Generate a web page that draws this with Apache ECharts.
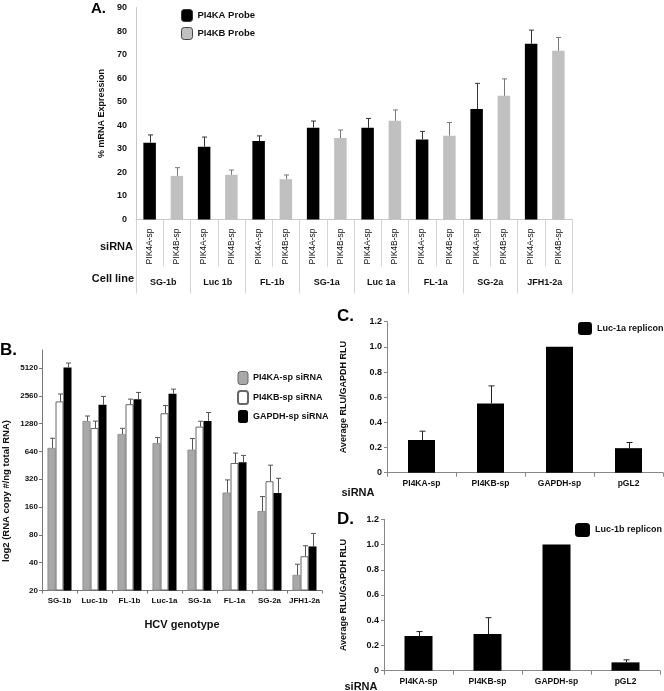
<!DOCTYPE html>
<html><head><meta charset="utf-8">
<script src="https://cdn.jsdelivr.net/npm/echarts@6/dist/echarts.min.js"></script>
<style>html,body{margin:0;padding:0;background:#fff}#c{width:664px;height:691px}</style>
</head><body><div id="c"></div>
<script>
const FONT = '"Liberation Sans", Arial, Helvetica, sans-serif';

// ---------- Panel A data ----------
const cellLines = ['SG-1b', 'Luc 1b', 'FL-1b', 'SG-1a', 'Luc 1a', 'FL-1a', 'SG-2a', 'JFH1-2a'];
const probeSiRNA = ['PIK4A-sp', 'PIK4B-sp'];
const yTicksA = [0, 10, 20, 30, 40, 50, 60, 70, 80, 90];
const pi4kaProbe = [32.6, 30.9, 33.3, 39.0, 38.9, 34.0, 46.9, 74.6];
const pi4kaProbeErr = [3.3, 4.1, 2.2, 2.8, 4.0, 3.4, 10.9, 5.8];
const pi4kbProbe = [18.5, 19.0, 17.1, 34.6, 41.9, 35.6, 52.5, 71.6];
const pi4kbProbeErr = [3.5, 2.0, 1.8, 3.4, 4.6, 5.6, 7.2, 5.7];

// ---------- Panel B data ----------
const genotypes = ['SG-1b', 'Luc-1b', 'FL-1b', 'Luc-1a', 'SG-1a', 'FL-1a', 'SG-2a', 'JFH1-2a'];
const yTicksB = [20, 40, 80, 160, 320, 640, 1280, 2560, 5120];
const pi4kaSi = [700, 1370, 990, 790, 670, 230, 145, 29.5];
const pi4kaSiErr = [190, 180, 150, 115, 215, 85, 63, 9];
const pi4kbSi = [2230, 1150, 2080, 1660, 1190, 480, 305, 47];
const pi4kbSiErr = [450, 215, 280, 350, 170, 135, 150, 14];
const gapdhSi = [5200, 2050, 2360, 2700, 1370, 490, 228, 60];
const gapdhSiErr = [600, 475, 430, 330, 320, 90, 100, 23];

// ---------- Panels C / D data ----------
const siRNAcd = ['PI4KA-sp', 'PI4KB-sp', 'GAPDH-sp', 'pGL2'];
const yTicksCD = ['0', '0.2', '0.4', '0.6', '0.8', '1.0', '1.2'];
const luc1a = [0.26, 0.55, 1.0, 0.195];
const luc1aErr = [0.07, 0.14, 0, 0.045];
const luc1b = [0.275, 0.29, 1.0, 0.066];
const luc1bErr = [0.035, 0.13, 0, 0.02];

// ---------- helpers ----------
const siLabelsA = cellLines.flatMap(() => probeSiRNA);
const aBlack = siLabelsA.map((_, i) => i % 2 === 0 ? pi4kaProbe[i >> 1] : '-');
const aGray = siLabelsA.map((_, i) => i % 2 === 1 ? pi4kbProbe[i >> 1] : '-');
const lg = v => Math.log2(v / yTicksB[0]);

function errRender(color, cap, lw) {
  return function (params, api) {
    const c = api.value(0), v = api.value(1), t = api.value(2), off = api.value(3);
    const p0 = api.coord([c, v]), p1 = api.coord([c, t]);
    const x = Math.round(p0[0] + off) + 0.5;
    return {
      type: 'group', children: [
        { type: 'line', shape: { x1: x, y1: p0[1], x2: x, y2: p1[1] }, style: { stroke: color, lineWidth: lw } },
        { type: 'line', shape: { x1: x - cap, y1: p1[1], x2: x + cap, y2: p1[1] }, style: { stroke: color, lineWidth: lw } }
      ]
    };
  };
}
function errSeries(xi, yi, data, color, cap) {
  return { type: 'custom', xAxisIndex: xi, yAxisIndex: yi, data: data, renderItem: errRender(color, cap, 1), z: 5, silent: true, clip: false };
}
const txt = (extra) => Object.assign({ color: '#111', fontFamily: FONT }, extra);

const chart = echarts.init(document.getElementById('c'), null, { renderer: 'canvas' });
const option = {
  animation: false,
  backgroundColor: '#fff',
  textStyle: { fontFamily: FONT, color: '#111' },
  grid: [
    { left: 136, top: 7.5, width: 436, height: 212 },
    { left: 42, top: 350, width: 280, height: 240.5 },
    { left: 387, top: 321.7, width: 276, height: 151 },
    { left: 384, top: 519.3, width: 276, height: 151.4 }
  ],
  legend: [
    { data: [{ name: 'PI4KA Probe', itemStyle: { borderColor: '#333', borderWidth: 1 } }, { name: 'PI4KB Probe', itemStyle: { borderColor: '#444', borderWidth: 1 } }],
      orient: 'vertical', left: 176, top: 4, itemWidth: 11, itemHeight: 12, itemGap: 5, itemTextGap: 5,
      textStyle: txt({ fontSize: 9.5, fontWeight: 'bold' }), selectedMode: false },
    { data: [{ name: 'PI4KA-sp siRNA', itemStyle: { borderColor: '#666', borderWidth: 1 } }, { name: 'PI4KB-sp siRNA' }, { name: 'GAPDH-sp siRNA' }],
      orient: 'vertical', left: 232, top: 366, itemWidth: 10, itemHeight: 13, itemGap: 5, itemTextGap: 8,
      textStyle: txt({ fontSize: 9, fontWeight: 'bold' }), selectedMode: false },
    { data: ['Luc-1a replicon'], left: 573, top: 317, itemWidth: 14, itemHeight: 13, itemTextGap: 5,
      textStyle: txt({ fontSize: 9, fontWeight: 'bold' }), selectedMode: false },
    { data: ['Luc-1b replicon'], left: 570, top: 518, itemWidth: 15, itemHeight: 14, itemTextGap: 5,
      textStyle: txt({ fontSize: 9, fontWeight: 'bold' }), selectedMode: false }
  ],
  xAxis: [
    { type: 'category', gridIndex: 0, data: siLabelsA, position: 'bottom',
      axisLine: { lineStyle: { color: '#c8c8c8' } },
      axisTick: { show: true, length: 47, interval: 0, lineStyle: { color: '#d4d4d4' } },
      axisLabel: txt({ interval: 0, rotate: 90, margin: 9, fontSize: 8.5 }) },
    { type: 'category', gridIndex: 0, data: cellLines, position: 'bottom',
      axisLine: { show: false },
      axisTick: { show: true, length: 74, interval: 0, lineStyle: { color: '#d4d4d4' } },
      axisLabel: txt({ interval: 0, margin: 59, fontSize: 9, fontWeight: 'bold' }) },
    { type: 'category', gridIndex: 1, data: genotypes,
      axisLine: { lineStyle: { color: '#777' } },
      axisTick: { show: true, length: 3, interval: 0, lineStyle: { color: '#777' } },
      axisLabel: txt({ interval: 0, margin: 6, fontSize: 8, fontWeight: 'bold' }),
      name: 'HCV genotype', nameLocation: 'middle', nameGap: 29, nameTextStyle: txt({ fontSize: 11, fontWeight: 'bold' }) },
    { type: 'category', gridIndex: 2, data: siRNAcd,
      axisLine: { lineStyle: { color: '#888' } },
      axisTick: { show: true, length: 4, interval: 0, lineStyle: { color: '#888' } },
      axisLabel: txt({ interval: 0, margin: 6, fontSize: 8.5, fontWeight: 'bold' }) },
    { type: 'category', gridIndex: 3, data: siRNAcd,
      axisLine: { lineStyle: { color: '#888' } },
      axisTick: { show: true, length: 4, interval: 0, lineStyle: { color: '#888' } },
      axisLabel: txt({ interval: 0, margin: 6, fontSize: 8.5, fontWeight: 'bold' }) }
  ],
  yAxis: [
    { type: 'value', gridIndex: 0, min: 0, max: 90, interval: 10,
      axisLine: { show: true, lineStyle: { color: '#c8c8c8' } }, axisTick: { show: false }, splitLine: { show: false },
      axisLabel: txt({ margin: 9, fontSize: 9, fontWeight: 'bold', formatter: v => String(yTicksA[Math.round(v / 10)]) }),
      name: '% mRNA Expression', nameLocation: 'middle', nameGap: 26, nameTextStyle: txt({ fontSize: 9, fontWeight: 'bold' }) },
    { type: 'value', gridIndex: 1, min: 0, max: 8.65, interval: 1,
      axisLine: { show: true, lineStyle: { color: '#777' } }, axisTick: { show: true, length: 3, lineStyle: { color: '#777' } }, splitLine: { show: false },
      axisLabel: txt({ margin: 4, fontSize: 8, fontWeight: 'bold', showMaxLabel: false,
        formatter: v => Math.abs(v - Math.round(v)) < 1e-6 && yTicksB[Math.round(v)] !== undefined ? String(yTicksB[Math.round(v)]) : '' }) },
    { type: 'value', gridIndex: 2, min: 0, max: 1.2, interval: 0.2,
      axisLine: { show: true, lineStyle: { color: '#888' } }, axisTick: { show: true, length: 3, lineStyle: { color: '#888' } }, splitLine: { show: false },
      axisLabel: txt({ margin: 5, fontSize: 9, fontWeight: 'bold', formatter: v => yTicksCD[Math.round(v / 0.2)] }),
      name: 'Average RLU/GAPDH RLU', nameLocation: 'middle', nameGap: 39, nameTextStyle: txt({ fontSize: 9, fontWeight: 'bold' }) },
    { type: 'value', gridIndex: 3, min: 0, max: 1.2, interval: 0.2,
      axisLine: { show: true, lineStyle: { color: '#888' } }, axisTick: { show: true, length: 3, lineStyle: { color: '#888' } }, splitLine: { show: false },
      axisLabel: txt({ margin: 5, fontSize: 9, fontWeight: 'bold', formatter: v => yTicksCD[Math.round(v / 0.2)] }),
      name: 'Average RLU/GAPDH RLU', nameLocation: 'middle', nameGap: 36, nameTextStyle: txt({ fontSize: 9, fontWeight: 'bold' }) }
  ],
  series: [
    // Panel A
    { name: 'PI4KA Probe', type: 'bar', xAxisIndex: 0, yAxisIndex: 0, data: aBlack, barWidth: 12.5, barGap: '-100%', itemStyle: { color: '#000' } },
    { name: 'PI4KB Probe', type: 'bar', xAxisIndex: 0, yAxisIndex: 0, data: aGray, barWidth: 12.5, barGap: '-100%', itemStyle: { color: '#c0c0c0' } },
    errSeries(0, 0, pi4kaProbe.map((v, i) => [2 * i, v, v + pi4kaProbeErr[i], 0]), '#333', 2.5),
    errSeries(0, 0, pi4kbProbe.map((v, i) => [2 * i + 1, v, v + pi4kbProbeErr[i], 0]), '#777', 2.5),
    // Panel B
    { name: 'PI4KA-sp siRNA', type: 'bar', xAxisIndex: 2, yAxisIndex: 1, data: pi4kaSi.map(lg), barWidth: 8, barGap: '0%',
      itemStyle: { color: '#a8a8a8', borderColor: '#888', borderWidth: 0.8 } },
    { name: 'PI4KB-sp siRNA', type: 'bar', xAxisIndex: 2, yAxisIndex: 1, data: pi4kbSi.map(lg), barWidth: 8, barGap: '0%',
      itemStyle: { color: '#fff', borderColor: '#666', borderWidth: 1 } },
    { name: 'GAPDH-sp siRNA', type: 'bar', xAxisIndex: 2, yAxisIndex: 1, data: gapdhSi.map(lg), barWidth: 8, barGap: '0%',
      itemStyle: { color: '#000' } },
    errSeries(2, 1, pi4kaSi.map((v, i) => [i, lg(v), lg(v + pi4kaSiErr[i]), -8]), '#555', 2.5),
    errSeries(2, 1, pi4kbSi.map((v, i) => [i, lg(v), lg(v + pi4kbSiErr[i]), 0]), '#555', 2.5),
    errSeries(2, 1, gapdhSi.map((v, i) => [i, lg(v), lg(v + gapdhSiErr[i]), 8]), '#555', 2.5),
    // Panel C
    { name: 'Luc-1a replicon', type: 'bar', xAxisIndex: 3, yAxisIndex: 2, data: luc1a, barWidth: 27, itemStyle: { color: '#000' } },
    errSeries(3, 2, luc1a.map((v, i) => [i, v, v + luc1aErr[i], 0]).filter((d, i) => luc1aErr[i] > 0), '#222', 3),
    // Panel D
    { name: 'Luc-1b replicon', type: 'bar', xAxisIndex: 4, yAxisIndex: 3, data: luc1b, barWidth: 28, itemStyle: { color: '#000' } },
    errSeries(4, 3, luc1b.map((v, i) => [i, v, v + luc1bErr[i], 0]).filter((d, i) => luc1bErr[i] > 0), '#222', 3)
  ],
  graphic: [
    { type: 'text', left: 91, top: 1, style: { text: 'A.', font: 'bold 15px ' + FONT, fill: '#000' } },
    { type: 'text', left: 0, top: 342, style: { text: 'B.', font: 'bold 17px ' + FONT, fill: '#000' } },
    { type: 'text', left: 337, top: 308, style: { text: 'C.', font: 'bold 17px ' + FONT, fill: '#000' } },
    { type: 'text', left: 337, top: 511, style: { text: 'D.', font: 'bold 17px ' + FONT, fill: '#000' } },
    { type: 'text', x: 133, y: 247, style: { text: 'siRNA', font: 'bold 11px ' + FONT, fill: '#111', align: 'right', verticalAlign: 'middle' } },
    { type: 'text', x: 134, y: 279, style: { text: 'Cell line', font: 'bold 11px ' + FONT, fill: '#111', align: 'right', verticalAlign: 'middle' } },
    { type: 'text', x: 358, y: 493, style: { text: 'siRNA', font: 'bold 11px ' + FONT, fill: '#111', align: 'center', verticalAlign: 'middle' } },
    { type: 'text', x: 361, y: 687, style: { text: 'siRNA', font: 'bold 11px ' + FONT, fill: '#111', align: 'center', verticalAlign: 'middle' } },
    { type: 'text', x: 6, y: 491, rotation: Math.PI / 2, style: { text: 'log2 (RNA copy #/ng total RNA)', font: 'bold 9.5px ' + FONT, fill: '#111', align: 'center', verticalAlign: 'middle' } }
  ]
};
chart.setOption(option);
</script>
</body></html>
